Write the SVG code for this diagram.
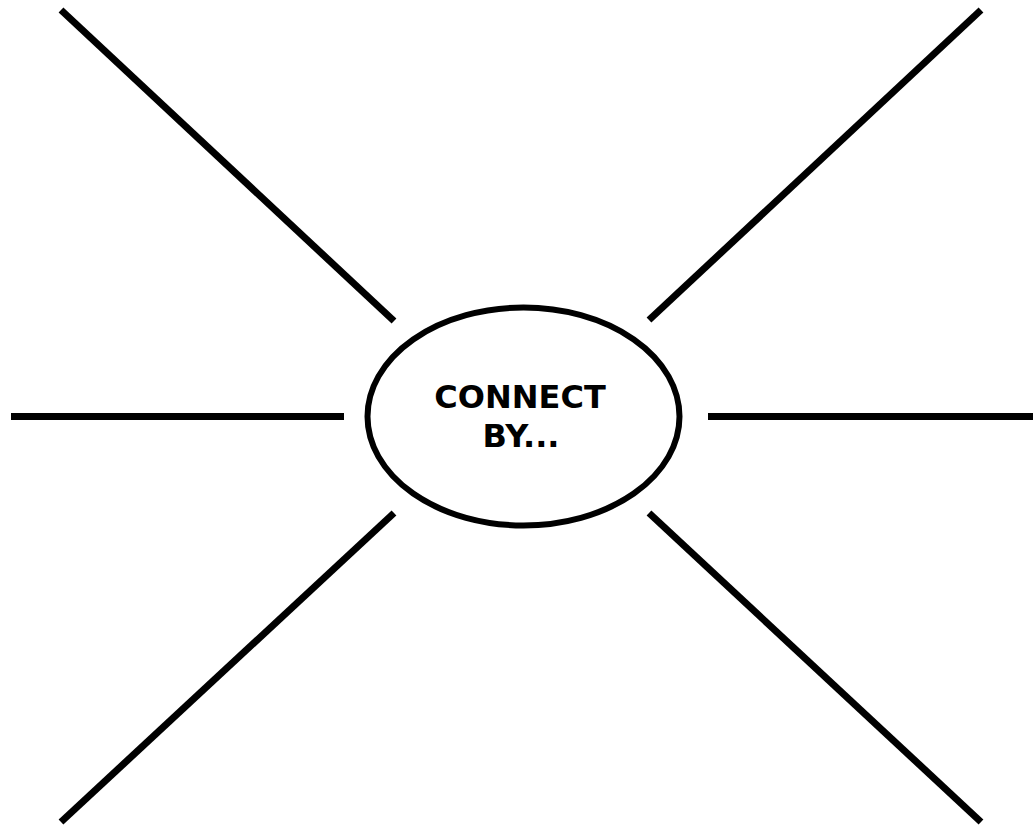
<svg xmlns="http://www.w3.org/2000/svg" width="1033" height="829" viewBox="0 0 1033 829">
<style>
.c{stroke:#000;stroke-width:7;fill:none}
.t{font-family:"DejaVu Sans",Verdana,sans-serif;font-weight:bold;font-size:32px;fill:#000;text-anchor:middle}
</style>
<rect width="1033" height="829" fill="#fff"/>
<g id="connectors">
<line class="c" x1="61" y1="10" x2="394" y2="321"/>
<line class="c" x1="981" y1="10" x2="649" y2="320"/>
<line class="c" x1="11" y1="416.5" x2="344" y2="416.5"/>
<line class="c" x1="708" y1="416.5" x2="1033" y2="416.5"/>
<line class="c" x1="61" y1="822" x2="394" y2="513"/>
<line class="c" x1="981" y1="822" x2="649" y2="513"/>
</g>
<g id="center">
<ellipse cx="523.5" cy="416.5" rx="156" ry="109" fill="#fff" stroke="#000" stroke-width="6"/>
<text class="t" x="520" y="408">CONNECT</text>
<text class="t" x="521" y="447">BY...</text>
</g>
</svg>
